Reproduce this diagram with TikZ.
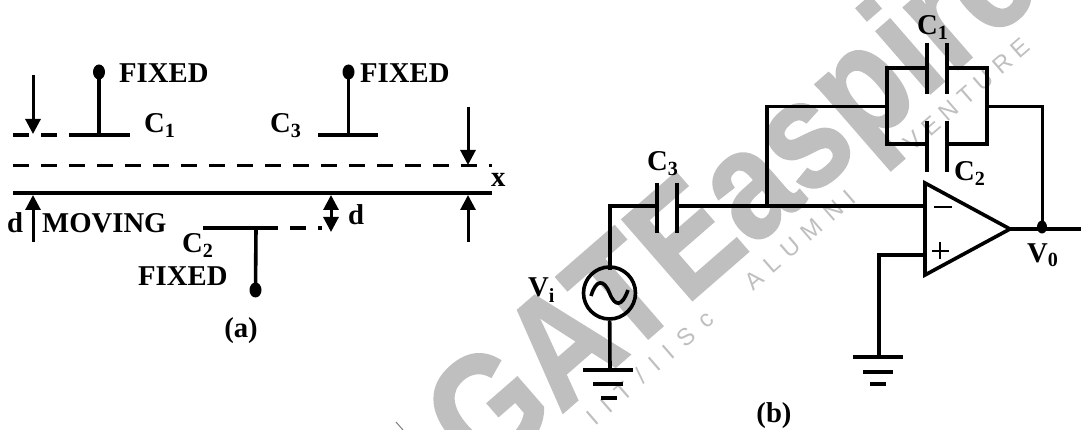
\documentclass[tikz,border=0pt]{standalone}
\usepackage{fontspec}
\setmainfont{Liberation Serif}
\newfontfamily\wmfont{Liberation Sans}
\usetikzlibrary{arrows.meta,shapes.geometric}
\definecolor{wm}{gray}{0.75}
\tikzset{
 x=1pt,y=-1pt,
 wire/.style={line width=3.6pt,line cap=butt},
 joint/.style={line width=3.6pt,line join=miter},
 dim/.style={line width=3pt,-{Triangle[length=15pt,width=15pt]}},
 dashline/.style={line width=3.6pt,dash pattern=on 16pt off 12pt},
 lab/.style={font=\bfseries\fontsize{28.7}{29}\selectfont,inner sep=0pt,text=black},
 dotn/.style={ellipse,fill=black,inner sep=0pt,minimum width=10pt,minimum height=13pt},
 pin/.style={ellipse,fill=black,inner sep=0pt,minimum width=12pt,minimum height=15pt},
 wmbig/.style={font=\wmfont\bfseries\fontsize{155}{155}\selectfont,text=wm,inner sep=0pt,rotate=41},
 wmsmall/.style={font=\wmfont\fontsize{24}{24}\selectfont,text=wm,inner sep=0pt,rotate=41},
}
\newcommand{\Csub}[1]{C\textsubscript{#1}}
\begin{document}
\begin{tikzpicture}
\useasboundingbox (0,0) rectangle (1081,430);
% watermark
\node[wmbig,anchor=base west] (wmain) at (483,482) {\addfontfeature{FakeBold=1.5}\scalebox{0.85}[1]{GATEaspire}};
\node[wmsmall,anchor=center] (w1) at (650,368) {\addfontfeature{LetterSpace=50}IIT/IISc};
\node[wmsmall,anchor=center] (w2) at (800,240) {\addfontfeature{LetterSpace=40}ALUMNI};
\node[wmsmall,anchor=center] (w3) at (967,95) {\addfontfeature{LetterSpace=30}VENTURE};
\draw[gray,line width=1pt] (396,422) -- (403,430);
% (a)
\coordinate (mL) at (13,193); \coordinate (mR) at (492,193);
\draw[wire] (mL) -- (mR);
\coordinate (dL) at (13,165.5); \coordinate (dR) at (492,165.5);
\draw[dashline] (dL) -- (dR);
\coordinate (c1a) at (69,135); \coordinate (c1b) at (130,135);
\coordinate (c1c) at (13,135); \coordinate (c1d) at (69,135);
\draw[wire] (c1a) -- (c1b);
\draw[dashline] (c1c) -- (c1d);
\node[pin] (f1) at (99,72) {};
\draw[wire] (f1.center) -- (99,135);
\node[lab,anchor=base west] (t1) at (119,83) {FIXED};
\node[lab,anchor=base west] (c1t) at (144,133) {\Csub{1}};
\coordinate (c3a) at (318,135); \coordinate (c3b) at (378,135);
\draw[wire] (c3a) -- (c3b);
\node[pin] (f3) at (348.5,72) {};
\draw[wire] (f3.center) -- (348.5,135);
\node[lab,anchor=base west] (t3) at (360,83) {FIXED};
\node[lab,anchor=base west] (c3t) at (270,133) {\Csub{3}};
\coordinate (c2a) at (203,228); \coordinate (c2b) at (262,228); \coordinate (c2c) at (322,228);
\draw[wire] (c2a) -- (c2b);
\draw[dashline] (c2b) -- (c2c);
\node[pin] (f2) at (255.5,290) {};
\draw[wire] (256,228) -- (f2.center);
\node[lab,anchor=base west] (c2t) at (182,253) {\Csub{2}};
\node[lab,anchor=base west] (t2) at (138,286) {FIXED};
\node[lab,anchor=base west] (mv) at (42,233) {MOVING};
\node[lab,anchor=base west] (dl) at (7,233) {d};
\node[lab,anchor=base west] (dr) at (348,225) {d};
\node[lab,anchor=base west] (xl) at (491,187) {x};
\node[lab,anchor=base] (acap) at (241,337) {(a)};
\coordinate (a1s) at (33,75); \coordinate (a1e) at (33,134);
\draw[dim] (a1s) -- (a1e);
\coordinate (a2s) at (33,242); \coordinate (a2e) at (33,195);
\draw[dim] (a2s) -- (a2e);
\coordinate (a3s) at (468,107); \coordinate (a3e) at (468,165);
\draw[dim] (a3s) -- (a3e);
\coordinate (a4s) at (468,242); \coordinate (a4e) at (468,195);
\draw[dim] (a4s) -- (a4e);
\coordinate (a5) at (331,195); \coordinate (a6) at (331,232);
\draw[line width=3pt,{Triangle[length=15pt,width=15pt]}-{Triangle[length=15pt,width=15pt]}] (a5) -- (a6);
% (b) op amp
\coordinate (oA) at (925,183); \coordinate (oB) at (925,275); \coordinate (oC) at (1010,229);
\draw[joint] (oA) -- (oB) -- (oC) -- cycle;
\draw[line width=2pt] (934,207) -- (952,207);
\draw[line width=2pt] (931.5,251) -- (948.5,251) (940,242.5) -- (940,259.5);
% C3
\draw[wire] (657,183) -- (657,233) (677,183) -- (677,233);
\draw[joint] (610,270) -- (610,206) -- (657,206);
\draw[wire] (677,206) -- (925,206);
% feedback
\draw[joint] (767,206) -- (767,106.5) -- (887,106.5);
\draw[joint] (987,106.5) -- (1042.5,106.5) -- (1042.5,229);
\draw[wire] (oC) -- (1081,229);
\node[dotn] (vo) at (1042,227) {};
% C1 C2
\draw[joint] (927,68) -- (887,68) -- (887,144) -- (927,144);
\draw[joint] (947,68) -- (987,68) -- (987,144) -- (947,144);
\draw[wire] (927,43) -- (927,94) (947,43) -- (947,94);
\draw[wire] (927,121) -- (927,172) (947,121) -- (947,172);
\node[lab,anchor=base west] (cc1) at (917,35) {\Csub{1}};
\node[lab,anchor=base west] (cc2) at (954,181) {\Csub{2}};
\node[lab,anchor=base west] (cc3) at (647,171) {\Csub{3}};
\node[lab,anchor=base west] (vot) at (1027,262) {V\textsubscript{0}};
% plus input & ground
\draw[joint] (925,255) -- (879,255) -- (879,357);
\draw[wire] (853,357) -- (903,357) (863,372) -- (893,372) (870,384) -- (886,384);
% source
\node[circle,draw,line width=3.6pt,minimum size=52pt,inner sep=0pt] (src) at (609.5,293) {};
\draw[line width=3.6pt] (591,296) .. controls (596,279) and (604,279) .. (609.5,293) .. controls (615,307) and (622,307) .. (628,290);
\draw[wire] (src) -- (610,370);
\draw[wire] (583,370) -- (633,370) (593,384) -- (623,384) (601,398) -- (617,398);
\node[lab,anchor=base west] (vi) at (528,297) {V\textsubscript{i}};
\node[lab,anchor=base] (bcap) at (774,422) {(b)};
\end{tikzpicture}
\end{document}
